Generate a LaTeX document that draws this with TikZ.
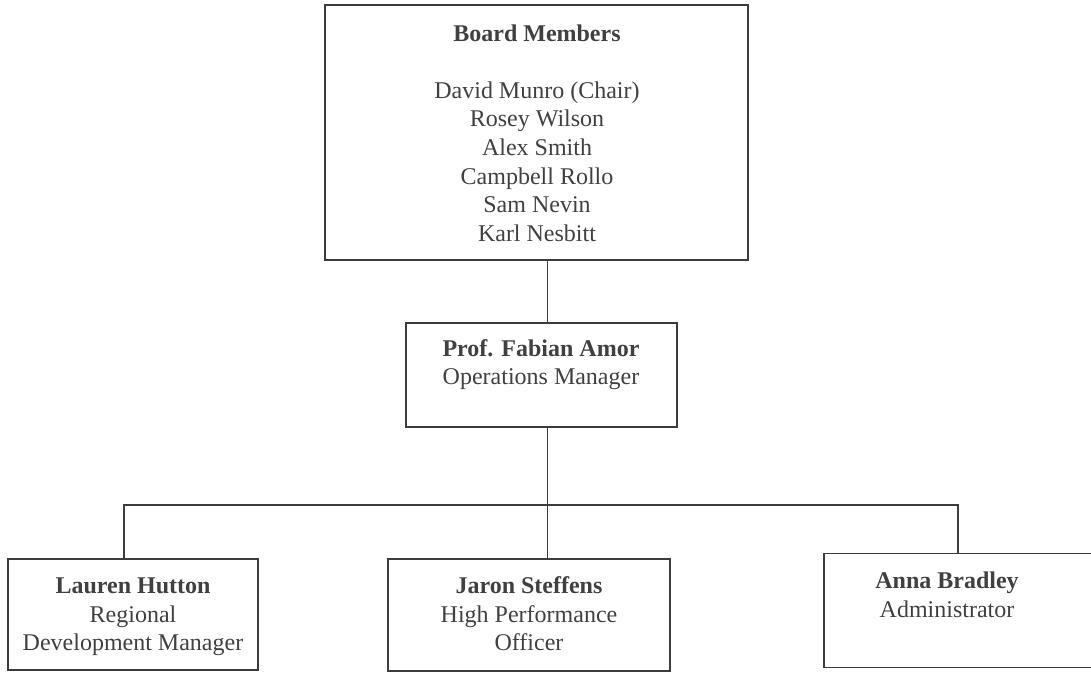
\documentclass[tikz,border=0pt]{standalone}
\usepackage{fontspec}
\setmainfont{Liberation Serif}
\usetikzlibrary{positioning}

\definecolor{inkgray}{HTML}{3C3C3C}
\definecolor{textgray}{HTML}{404040}

\tikzset{
  orgbox/.style={draw=inkgray, line width=1.4pt, inner sep=0pt},
  orgtext/.style={text=textgray, align=center, inner sep=0pt,
    font=\fontsize{18pt}{21.4pt}\selectfont},
  link/.style={draw=inkgray, line width=1pt}
}

\begin{document}
\begin{tikzpicture}[x=0.75pt, y=-0.75pt]
  \useasboundingbox (0,0) rectangle (1091,672);

  % boxes
  \node[orgbox, minimum width=317.25pt, minimum height=191.25pt] (board) at (536.5,132.5) {};
  \node[orgbox, minimum width=203.25pt, minimum height=78pt] (ops) at (541.5,375) {};
  \node[orgbox, minimum width=187.5pt, minimum height=83.25pt] (lauren) at (133,614.5) {};
  \node[orgbox, minimum width=211.5pt, minimum height=84pt] (jaron) at (529,615) {};
  \node[orgbox, minimum width=207pt, minimum height=85.5pt] (anna) at (962,610.5) {};

  % texts
  \node[orgtext] (boardtxt) at (537,133) {\textbf{Board Members}\\[21.4pt]
    David Munro (Chair)\\Rosey Wilson\\Alex Smith\\Campbell Rollo\\Sam Nevin\\Karl Nesbitt};
  \node[orgtext] (opstxt) at (541,364.5) {\textbf{Prof. Fabian Amor}\\Operations Manager};
  \node[orgtext] (laurentxt) at (133,617) {\textbf{Lauren Hutton}\\Regional\\Development Manager};
  \node[orgtext] (jarontxt) at (529,614) {\textbf{Jaron Steffens}\\High Performance\\Officer};
  \node[orgtext] (annatxt) at (947,595) {\textbf{Anna Bradley}\\Administrator};

  % connectors
  \coordinate (bus) at (547.5,505);
  \coordinate (busL) at (124,505);
  \coordinate (busR) at (958,505);
  \draw[link] (bus |- board.south) -- (bus |- ops.north);
  \draw[link] (bus |- ops.south) -- (bus |- jaron.north);
  \draw[link] (busL |- lauren.north) -- (busL) -- (busR) -- (busR |- anna.north);
\end{tikzpicture}
\end{document}
